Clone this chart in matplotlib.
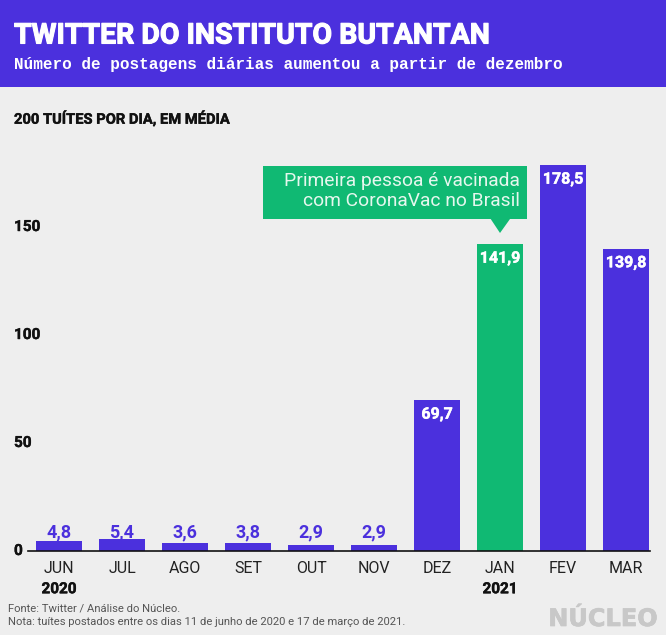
import matplotlib
matplotlib.use("Agg")
import matplotlib.pyplot as plt
from matplotlib.patches import Rectangle, Polygon
import matplotlib.patheffects as pe

months = ["JUN", "JUL", "AGO", "SET", "OUT", "NOV", "DEZ", "JAN", "FEV", "MAR"]
values = [4.8, 5.4, 3.6, 3.8, 2.9, 2.9, 69.7, 141.9, 178.5, 139.8]
labels = ["4,8", "5,4", "3,6", "3,8", "2,9", "2,9", "69,7", "141,9", "178,5", "139,8"]
yticks = [0, 50, 100, 150]
years = {0: "2020", 7: "2021"}

PURPLE = "#4b30dd"
GREEN = "#10b973"
BG = "#eeeeee"
W, H = 666, 635
F = "Roboto"


def heavy(c, w=0.5):
    return [pe.withStroke(linewidth=w, foreground=c)]


fig = plt.figure(figsize=(W / 100, H / 100), dpi=100, facecolor=BG)
L, R, BASE, TOP = 28, 650, 551, 119
ax = fig.add_axes([L / W, 1 - BASE / H, (R - L) / W, (BASE - TOP) / H])
ax.set_facecolor("none")
ax.set_xlim((L - 59) / 63, (R - 59) / 63)
ax.set_ylim(0, 200)
for s in ["top", "left", "right"]:
    ax.spines[s].set_visible(False)
ax.spines["bottom"].set_linewidth(1.2)
ax.spines["bottom"].set_color("#111111")

colors = [GREEN if m == "JAN" else PURPLE for m in months]
x = list(range(len(months)))
ax.bar(x, values, width=46 / 63, color=colors, zorder=2)

ax.set_xticks(x, months, fontfamily=F, fontsize=11.5, color="#222222")
ax.tick_params(axis="x", length=0, pad=7.5)
ax.set_yticks(yticks, [str(v) for v in yticks], fontfamily=F, fontsize=11,
              fontweight="bold", color="#111111")
ax.tick_params(axis="y", length=0)
for t in ax.get_yticklabels():
    t.set_ha("left")
    t.set_x(-9.1 / (R - L))
    t.set_va("center")
    t.set_path_effects(heavy("#111111", 0.3))

for i, (v, lab) in enumerate(zip(values, labels)):
    if v < 20:
        ax.annotate(lab, (i, 0), xytext=(0, 13.7), textcoords="offset points", ha="center", va="center",
                    fontfamily=F, fontsize=13, fontweight="bold", color=PURPLE, zorder=3)
    else:
        ax.annotate(lab, (i, v), xytext=(0, -4.5), textcoords="offset points", ha="center", va="top",
                    fontfamily=F, fontsize=11.5, fontweight="bold", color="white", zorder=3,
                    path_effects=heavy("white", 0.3))

for i, yr in years.items():
    ax.annotate(yr, (i, 0), xytext=(0, -22.5), textcoords="offset points", ha="center", va="top",
                fontfamily=F, fontsize=11, fontweight="bold", color="#111111", annotation_clip=False,
                path_effects=heavy("#111111", 0.3))


def px(xp, yp):
    return xp / W, 1 - yp / H


ft = fig.transFigure
fig.add_artist(Rectangle(px(0, 87), 1, 87 / H, transform=ft, facecolor=PURPLE, edgecolor="none", zorder=0))
fig.text(*px(14, 36), "TWITTER DO INSTITUTO BUTANTAN", family=F, fontsize=20.5, fontweight="bold",
         color="white", va="center", path_effects=heavy("white", 0.8))
fig.text(*px(14, 65), "Número de postagens diárias aumentou a partir de dezembro", family="Liberation Mono",
         fontsize=11.55, fontweight="bold", color="white", va="center")
fig.text(*px(14, 119), "200 TUÍTES POR DIA, EM MÉDIA", family=F, fontsize=10.6, fontweight="bold",
         color="#111111", va="center", path_effects=heavy("#111111", 0.3))

# callout
fig.add_artist(Rectangle(px(262.5, 219), (526.7 - 262.5) / W, (219 - 165.7) / H, transform=ft,
                         facecolor=GREEN, edgecolor="none", zorder=3))
fig.add_artist(Polygon([px(490.7, 219), px(500, 233), px(510, 219)], transform=ft,
                       facecolor=GREEN, edgecolor="none", zorder=3))
fig.text(*px(520, 181), "Primeira pessoa é vacinada", family=F, fontsize=13.9, color="#e6f7ee",
         ha="right", va="center", zorder=4)
fig.text(*px(520, 201), "com CoronaVac no Brasil", family=F, fontsize=13.9, color="#e6f7ee",
         ha="right", va="center", zorder=4)

fig.text(*px(8, 609), "Fonte: Twitter / Análise do Núcleo.", family=F, fontsize=8.15, color="#555555", va="center")
fig.text(*px(8, 622), "Nota: tuítes postados entre os dias 11 de junho de 2020 e 17 de março de 2021.", family=F,
         fontsize=8.15, color="#555555", va="center")
fig.text(*px(658, 619), "NÚCLEO", family="DejaVu Sans", fontsize=17.3, fontweight="bold", color="#c8c8c8",
         ha="right", va="center", path_effects=heavy("#c8c8c8", 0.5))

fig.savefig("out.png", dpi=100, facecolor=BG)
